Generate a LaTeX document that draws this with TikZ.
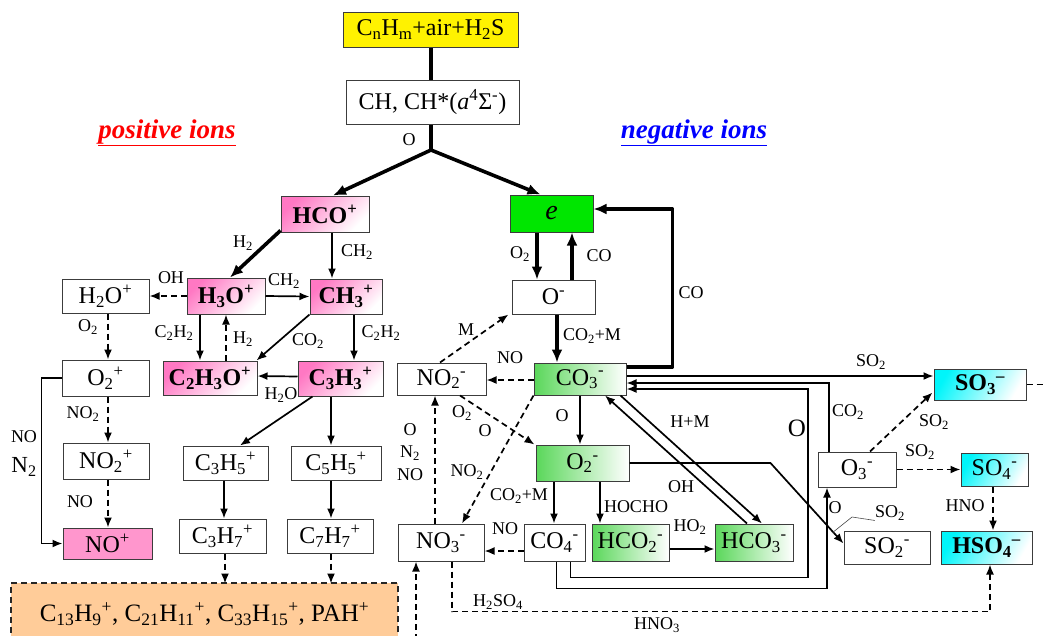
\documentclass[tikz,border=0pt]{standalone}
\usepackage{fontspec}
\setmainfont{Liberation Serif}
\usetikzlibrary{arrows.meta,calc}
\definecolor{pinkA}{RGB}{255,120,195}
\definecolor{greenA}{RGB}{90,215,90}
\definecolor{cyanA}{RGB}{0,245,250}
\definecolor{eGreen}{RGB}{0,230,0}
\definecolor{noPink}{RGB}{255,150,205}
\definecolor{pahOrange}{RGB}{255,204,153}
\definecolor{boxLine}{RGB}{60,60,60}
\definecolor{posRed}{RGB}{255,0,0}
\definecolor{negBlue}{RGB}{0,0,255}
\tikzset{
  box/.style={draw=boxLine, line width=1pt, inner sep=0pt, font=\fontsize{24}{26}\selectfont},
  sz/.style 2 args={minimum width=#1pt, minimum height=#2pt},
  wbox/.style={box, fill=white},
  pbox/.style={box, left color=pinkA, right color=white, shading angle=45, font=\fontsize{24}{26}\selectfont\bfseries},
  gbox/.style={box, left color=greenA, right color=white},
  cbox/.style={box, left color=cyanA, right color=white, shading angle=60},
  lbl/.style={inner sep=0pt, font=\fontsize{18}{20}\selectfont},
  arr/.style={line width=1.7pt, -{Latex[length=10pt,width=8pt]}},
  tarr/.style={line width=3.6pt, -{Latex[length=13pt,width=11pt]}},
  tline/.style={line width=3.6pt},
  dsh/.style={dash pattern=on 6pt off 4pt},
  ttl/.style={inner sep=0pt, font=\fontsize{27}{29}\selectfont\bfseries\itshape},
}
\begin{document}
\begin{tikzpicture}[x=1pt,y=-1pt]
\useasboundingbox (0,0) rectangle (1044,635);
\clip (0,0) rectangle (1044,635);

% ---------- top ----------
\node[box, fill=yellow, sz={175}{35}] (top) at (430.5,29.5) {C\textsubscript{n}H\textsubscript{m}+air+H\textsubscript{2}S};
\node[wbox, sz={173}{44}] (ch) at (432.5,102) {CH, CH*(\textit{a}\textsuperscript{4}Σ\textsuperscript{-})};
\coordinate (J) at (431,150);
\draw[tline] (top.south -| J) -- (ch.north -| J);
\draw[tline] (ch.south -| J) -- (J);
\node[lbl] (lO) at (409,140) {O};

\node[ttl, text=posRed] (pos) at (167,133) {\underline{positive ions}};
\node[ttl, text=negBlue] (neg) at (694,133) {\underline{negative ions}};

% ---------- positive ions ----------
\node[pbox, sz={88}{36}] (hco) at (325,214) {HCO\textsuperscript{+}};
\node[pbox, sz={78}{36}] (h3o) at (226,296) {H\textsubscript{3}O\textsuperscript{+}};
\node[pbox, sz={72}{35}] (ch3) at (346,296.5) {CH\textsubscript{3}\textsuperscript{+}};
\node[wbox, sz={87}{34}] (h2o) at (105.5,296) {H\textsubscript{2}O\textsuperscript{+}};
\node[pbox, sz={94}{34}] (c2h3o) at (210,378) {C\textsubscript{2}H\textsubscript{3}O\textsuperscript{+}};
\node[pbox, sz={85}{35}] (c3h3) at (340.5,378.5) {C\textsubscript{3}H\textsubscript{3}\textsuperscript{+}};
\node[wbox, sz={87}{36}] (o2p) at (105.5,378) {O\textsubscript{2}\textsuperscript{+}};
\node[wbox, sz={86}{36}] (no2p) at (106,461) {NO\textsubscript{2}\textsuperscript{+}};
\node[box, fill=noPink, sz={89}{31}] (nop) at (107.5,543.5) {NO\textsuperscript{+}};
\node[wbox, sz={85}{34}] (c3h5) at (225.5,463) {C\textsubscript{3}H\textsubscript{5}\textsuperscript{+}};
\node[wbox, sz={90}{34}] (c5h5) at (336,463) {C\textsubscript{5}H\textsubscript{5}\textsuperscript{+}};
\node[wbox, sz={87}{34}] (c3h7) at (222.5,536) {C\textsubscript{3}H\textsubscript{7}\textsuperscript{+}};
\node[wbox, sz={86}{34}] (c7h7) at (330,536) {C\textsubscript{7}H\textsubscript{7}\textsuperscript{+}};
\node[box, fill=pahOrange, draw=black!85, line width=1.6pt, dsh, sz={387}{62}, font=\fontsize{25}{27}\selectfont] (pah) at (204.5,614)
  {C\textsubscript{13}H\textsubscript{9}\textsuperscript{+}, C\textsubscript{21}H\textsubscript{11}\textsuperscript{+}, C\textsubscript{33}H\textsubscript{15}\textsuperscript{+}, PAH\textsuperscript{+}};

\draw[tarr] (J) -- ([xshift=8pt]hco.north);
\draw[tarr] ([yshift=2pt]hco.south west) -- ([xshift=4pt]h3o.north);
\node[lbl] (lH2a) at (243,243) {H\textsubscript{2}};
\draw[arr] ([xshift=7pt]hco.south) -- ([xshift=-14pt]ch3.north);
\node[lbl] (lCH2a) at (357,252) {CH\textsubscript{2}};
\draw[arr,dsh] (h3o.west) -- (h2o.east);
\node[lbl] (lOH) at (171,278) {OH};
\draw[arr] (h3o.east) -- (ch3.west);
\node[lbl] (lCH2b) at (284,281) {CH\textsubscript{2}};
\draw[arr] ([xshift=-26pt]h3o.south) -- ([xshift=-10pt]c2h3o.north);
\node[lbl] (lC2H2a) at (174,333) {C\textsubscript{2}H\textsubscript{2}};
\draw[arr,dsh] ([xshift=16pt]c2h3o.north) -- (h3o.south);
\node[lbl] (lH2b) at (243,339) {H\textsubscript{2}};
\draw[arr] (ch3.south west) -- ([xshift=-1pt]c2h3o.north east);
\node[lbl] (lCO2a) at (308,341) {CO\textsubscript{2}};
\draw[arr] ([xshift=8pt]ch3.south) -- ([xshift=13.5pt]c3h3.north);
\node[lbl] (lC2H2b) at (381,333) {C\textsubscript{2}H\textsubscript{2}};
\draw[arr] ([yshift=2pt]c3h3.west) -- ([yshift=2pt]c2h3o.east);
\node[lbl] (lH2O) at (281,395) {H\textsubscript{2}O};

\draw[arr,dsh] ([xshift=2.5pt]h2o.south) -- ([xshift=2.5pt]o2p.north);
\node[lbl] (lO2a) at (88,327) {O\textsubscript{2}};
\draw[arr,dsh] ([xshift=2.5pt]o2p.south) -- ([xshift=2pt]no2p.north);
\node[lbl] (lNO2a) at (83,414) {NO\textsubscript{2}};
\draw[arr,dsh] ([xshift=2pt]no2p.south) -- ([xshift=0.5pt]nop.north);
\node[lbl] (lNOa) at (80,502) {NO};
\draw[arr] (o2p.west) -- ++(-20,0) |- (nop.west);
\node[lbl] (lNOl) at (24,437) {NO};
\node[lbl, font=\fontsize{23}{25}\selectfont] (lN2l) at (24,467) {N\textsubscript{2}};

\draw[arr] ([xshift=15pt]c3h3.south west) -- ([xshift=14.5pt]c3h5.north);
\draw[arr] ([xshift=-9.5pt]c3h3.south) -- ([xshift=-5pt]c5h5.north);
\draw[arr] ([xshift=-1.5pt]c3h5.south) -- ([xshift=1.5pt]c3h7.north);
\draw[arr] ([xshift=-5pt]c5h5.south) -- ([xshift=1pt]c7h7.north);
\draw[arr,dsh] ([xshift=2.5pt]c3h7.south) -- ++(0,30);
\draw[arr,dsh] ([xshift=1pt]c7h7.south) -- ++(0,30);

% ---------- negative ions ----------
\node[box, fill=eGreen, sz={83}{37}, font=\fontsize{28}{30}\selectfont\itshape] (e) at (551.5,213.5) {e};
\node[wbox, sz={83}{34}] (om) at (553.5,297) {O\textsuperscript{-}};
\node[gbox, sz={92}{32}] (co3) at (580,379) {CO\textsubscript{3}\textsuperscript{-}};
\node[wbox, sz={89}{32}] (no2m) at (441.5,379) {NO\textsubscript{2}\textsuperscript{-}};
\node[gbox, sz={93}{36}] (o2m) at (582.5,463) {O\textsubscript{2}\textsuperscript{-}};
\node[wbox, sz={86}{37}] (no3m) at (441,542.5) {NO\textsubscript{3}\textsuperscript{-}};
\node[wbox, sz={61}{37}] (co4m) at (554.5,542.5) {CO\textsubscript{4}\textsuperscript{-}};
\node[gbox, sz={77}{37}] (hco2) at (630.5,542.5) {HCO\textsubscript{2}\textsuperscript{-}};
\node[gbox, sz={78}{37}] (hco3) at (754,542.5) {HCO\textsubscript{3}\textsuperscript{-}};
\node[cbox, sz={92}{31}, font=\fontsize{24}{26}\selectfont\bfseries] (so3) at (980,384.5) {SO\textsubscript{3}\textsuperscript{–}};
\node[wbox, sz={78}{35}] (o3m) at (857,469.5) {O\textsubscript{3}\textsuperscript{-}};
\node[cbox, sz={67}{33}] (so4) at (994.5,469.5) {SO\textsubscript{4}\textsuperscript{-}};
\node[cbox, sz={91}{33}, font=\fontsize{24}{26}\selectfont\bfseries] (hso4) at (986.5,547.5) {HSO\textsubscript{4}\textsuperscript{–}};
\node[wbox, sz={86}{33}] (so2m) at (887,547.5) {SO\textsubscript{2}\textsuperscript{-}};

\draw[tarr] (J) -- ([xshift=-11pt]e.north);
\draw[tarr] ([xshift=-14.5pt]e.south) -- ([xshift=-16.5pt]om.north);
\node[lbl] (lO2b) at (520,254) {O\textsubscript{2}};
\draw[tarr] ([xshift=18.5pt]om.north) -- ([xshift=20.5pt]e.south);
\node[lbl] (lCOa) at (599,256) {CO};
\draw[tarr] ([xshift=3.5pt]om.south) -- ([xshift=-23pt]co3.north);
\node[lbl] (lCO2M) at (592,336) {CO\textsubscript{2}+M};
\draw[tarr, line join=round] ([yshift=12pt]co3.east) -- ++(46,0) |- ([yshift=4.5pt]e.east);
\node[lbl] (lCOb) at (691,293) {CO};

\draw[arr,dsh] ([yshift=-1pt]co3.west) -- ([yshift=-1pt]no2m.east);
\node[lbl] (lNOb) at (510,358) {NO};
\draw[arr,dsh] ([xshift=-1.5pt]no2m.north) -- ([xshift=-45pt]om.south);
\node[lbl] (lM) at (466,330) {M};
\draw[arr,dsh] ([xshift=18.5pt]no2m.south) -- ([xshift=-1pt]o2m.north west);
\node[lbl] (lO2c) at (462,413) {O\textsubscript{2}};
\node[lbl] (lOb) at (485,431) {O};
\draw[arr,dsh] (co3.south west) -- ([xshift=21pt]no3m.north);
\node[lbl] (lNO2b) at (467,472) {NO\textsubscript{2}};
\draw[arr,dsh] ([xshift=-6pt]no3m.north) -- ([xshift=-6.5pt]no2m.south);
\node[lbl] (lOd) at (410,430) {O};
\node[lbl] (lN2d) at (410,453) {N\textsubscript{2}};
\node[lbl] (lNOd) at (410,475) {NO};

\draw[arr] (co3.south) -- ([xshift=-2.5pt]o2m.north);
\node[lbl] (lOc) at (562,416) {O};
\draw[arr] ([xshift=-28.5pt]o2m.south) -- ([xshift=-0.5pt]co4m.north);
\node[lbl] (lCO2Mb) at (519,496) {CO\textsubscript{2}+M};
\draw[arr] ([xshift=17.5pt]o2m.south) -- ([xshift=-30.5pt]hco2.north);
\node[lbl] (lHOCHO) at (636,507) {HOCHO};
\draw[arr,dsh] ([yshift=-8.5pt]co4m.west) -- ([yshift=-8.5pt]no3m.east);
\node[lbl] (lNOc) at (505,529) {NO};
\draw[arr] ([yshift=-6.5pt]hco2.east) -- ([yshift=-6.5pt]hco3.west);
\node[lbl] (lHO2) at (690,527) {HO\textsubscript{2}};
\draw[arr] ([xshift=-6pt]co3.south east) -- ([xshift=8pt]hco3.north);
\draw[arr] ([xshift=-7pt]hco3.north) -- ([xshift=25pt]co3.south);
\node[lbl] (lHM) at (690,422) {H+M};
\node[lbl] (lOHb) at (681,487) {OH};

\draw[arr] (o2m.east) -- ++(141,0) -- ([yshift=4pt]so2m.west);
\draw[arr] ([xshift=2pt]co4m.south) -- ++(0,27) -| ([xshift=-30pt]o3m.south);
\draw[arr] ([xshift=16pt]co4m.south) -- ++(0,16) -- ++(237.5,0) |- ([yshift=-10pt]co3.east);
\node[lbl, font=\fontsize{25}{27}\selectfont] (lObig) at (797,428) {O};
\draw[arr] ([xshift=-28pt]o3m.north) |- ([yshift=-4pt]co3.east);
\node[lbl] (lCO2c) at (848,412) {CO\textsubscript{2}};
\draw[arr] ([yshift=3pt]co3.east) -- ([yshift=8.5pt]so3.west);
\node[lbl] (lSO2a) at (871,362) {SO\textsubscript{2}};

\draw[arr,dsh] ([xshift=13pt]o3m.north) -- ([xshift=-1pt,yshift=8pt]so3.south west);
\node[lbl] (lSO2b) at (934,422) {SO\textsubscript{2}};
\draw[arr,dsh] (o3m.east) -- (so4.west);
\node[lbl] (lSO2c) at (920,452) {SO\textsubscript{2}};
\draw[arr,dsh] ([xshift=-1.5pt]so4.south) -- ([xshift=6.5pt]hso4.north);
\node[lbl] (lHNO) at (965,506) {HNO};
\coordinate (rEdge) at (1060,384.5);
\draw[line width=1.7pt, dsh] (so3.east) -- (rEdge);

\draw[arr,dsh] ([xshift=11pt]no3m.south) -- ++(0,50) -| ([xshift=3.5pt]hso4.south);
\node[lbl] (lH2SO4) at (498,602) {H\textsubscript{2}SO\textsubscript{4}};
\node[lbl] (lHNO3) at (657,625) {HNO\textsubscript{3}};
\coordinate (bot) at (416,650);
\draw[arr,dsh] (bot) -- ([xshift=-25pt]no3m.south);

\node[lbl] (lOe) at (835,508) {O};
\node[lbl] (lSO2d) at (890,513) {SO\textsubscript{2}};
\coordinate (ldr) at (832,533);
\draw[black!70, line width=0.6pt] (ldr) -- (852,517) -- (lSO2d.south west);
\end{tikzpicture}
\end{document}
